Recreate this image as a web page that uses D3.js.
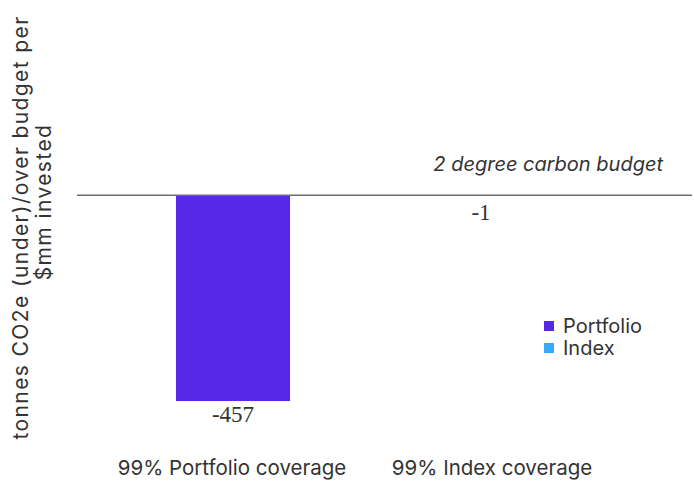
<!DOCTYPE html>
<html>
<head>
<meta charset="utf-8">
<script src="https://cdn.jsdelivr.net/npm/d3@7"></script>
<style>
  html, body { margin: 0; padding: 0; background: #fff; }
  svg { display: block; }
</style>
</head>
<body>
<svg id="chart" width="694" height="483"></svg>
<script>
const categories = ["99% Portfolio coverage", "99% Index coverage"];
const seriesNames = ["Portfolio", "Index"];
const values = [-457, -1];
const valueLabels = ["-457", "-1"];
const colors = ["#5728E6", "#3AA8F8"];
const yTitleLines = ["tonnes CO2e (under)/over budget per", "$mm invested"];
const annotation = "2 degree carbon budget";

const svg = d3.select("#chart");
const sans = "Inter, 'Open Sans', sans-serif";
const serif = "'Liberation Serif', 'DejaVu Serif', serif";
const textColor = "#333";

const x = d3.scaleBand().domain(categories).range([109, 605]).paddingInner(0.54).paddingOuter(0.27);
const xLabel = d3.scaleBand().domain(categories).range([102, 622]);
const y = d3.scaleLinear().domain([-500, 100]).range([420.4, 150.3]);

// bars
svg.selectAll("rect.bar").data(values).join("rect")
  .attr("class", "bar")
  .attr("x", (d, i) => x(categories[i]))
  .attr("width", x.bandwidth())
  .attr("y", d => y(Math.max(0, d)))
  .attr("height", d => Math.abs(y(d) - y(0)))
  .attr("fill", (d, i) => colors[i]);

// baseline
svg.append("line")
  .attr("x1", 77).attr("x2", 692)
  .attr("y1", y(0)).attr("y2", y(0))
  .attr("stroke", "#6e6e6e").attr("stroke-width", 1.5);

// value labels
svg.selectAll("text.val").data(values).join("text")
  .attr("class", "val")
  .attr("x", (d, i) => x(categories[i]) + x.bandwidth() / 2)
  .attr("y", d => Math.max(y(d), y(0) + 4) + 21)
  .attr("text-anchor", "middle")
  .attr("font-family", serif)
  .attr("font-size", 23)
  .attr("fill", textColor)
  .text((d, i) => valueLabels[i]);

// category labels
svg.selectAll("text.cat").data(categories).join("text")
  .attr("class", "cat")
  .attr("x", d => xLabel(d) + xLabel.bandwidth() / 2)
  .attr("y", 475)
  .attr("text-anchor", "middle")
  .attr("font-family", sans)
  .attr("font-size", 20.5)
  .attr("fill", textColor)
  .text(d => d);

// annotation
svg.append("text")
  .attr("x", 663).attr("y", 171)
  .attr("text-anchor", "end")
  .attr("font-family", sans)
  .attr("font-style", "italic")
  .attr("font-size", 20)
  .attr("fill", textColor)
  .text(annotation);

// y title
const yTitleCenters = [227.5, 202];
yTitleLines.forEach((t, i) => {
  svg.append("text")
    .attr("transform", `translate(${28 + i * 23},${yTitleCenters[i]}) rotate(-90)`)
    .attr("text-anchor", "middle")
    .attr("font-family", sans)
    .attr("font-size", 21)
    .attr("letter-spacing", 1.4)
    .attr("fill", textColor)
    .text(t);
});

// legend
const legend = svg.append("g").attr("transform", "translate(544,321)");
seriesNames.forEach((s, i) => {
  const g = legend.append("g").attr("transform", `translate(0,${i * 22})`);
  g.append("rect").attr("width", 10).attr("height", 10).attr("fill", colors[i]);
  g.append("text").attr("x", 19).attr("y", 12)
    .attr("font-family", sans).attr("font-size", 20).attr("fill", textColor).text(s);
});
</script>
</body>
</html>
